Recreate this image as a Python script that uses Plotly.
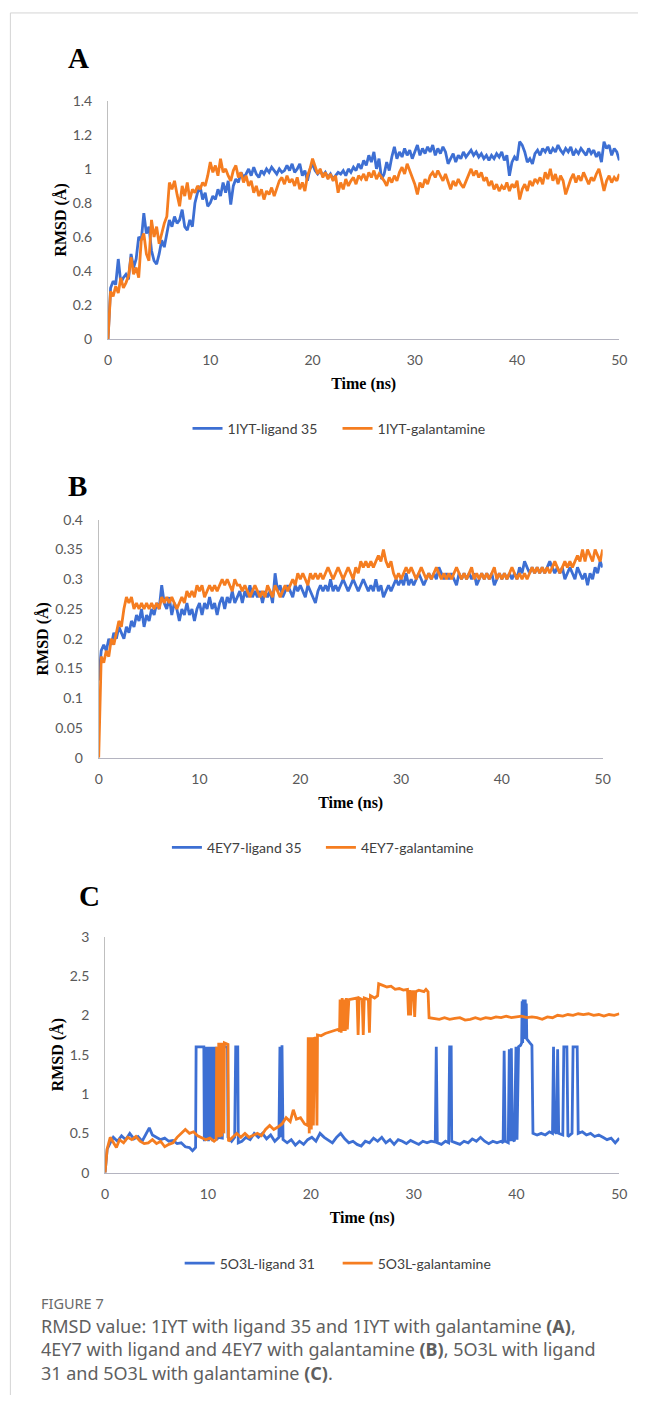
import numpy as np
import plotly.graph_objects as go

# ---------------- DATA ----------------
# Panel A (1IYT), values every 0.25 ns from 0 to 50 ns
a_ligand35 = [
    0.00, 0.30, 0.34, 0.32, 0.47, 0.33, 0.36, 0.38,
    0.35, 0.50, 0.42, 0.47, 0.60, 0.58, 0.74, 0.62,
    0.66, 0.52, 0.46, 0.44, 0.50, 0.58, 0.54, 0.62,
    0.70, 0.66, 0.72, 0.68, 0.70, 0.76, 0.66, 0.64,
    0.70, 0.66, 0.80, 0.86, 0.90, 0.82, 0.86, 0.78,
    0.80, 0.84, 0.82, 0.88, 0.84, 0.92, 0.86, 0.93,
    0.79, 0.90, 0.94, 0.92, 0.98, 0.95, 0.97, 1.00,
    0.96, 1.01, 0.97, 0.95, 0.99, 0.97, 1.00, 0.98,
    1.01, 0.99, 0.97, 1.00, 0.98, 0.99, 1.02, 0.99,
    1.03, 0.98, 1.00, 1.03, 0.96, 0.99, 0.93, 1.00,
    1.03, 0.99, 0.97, 0.99, 0.96, 0.98, 0.95, 0.97,
    0.94, 0.96, 0.98, 0.97, 0.99, 0.96, 1.00, 0.98,
    1.01, 0.99, 1.03, 1.00, 1.05, 1.02, 1.08, 1.04,
    1.10, 1.00, 1.06, 0.94, 0.97, 1.04, 0.99, 1.07,
    1.13, 1.06, 1.10, 1.07, 1.12, 1.08, 1.11, 1.06,
    1.10, 1.14, 1.08, 1.12, 1.09, 1.13, 1.10, 1.14,
    1.08, 1.12, 1.09, 1.13, 1.10, 1.03, 1.06, 1.09,
    1.04, 1.08, 1.06, 1.10, 1.07, 1.09, 1.11, 1.08,
    1.10, 1.07, 1.09, 1.06, 1.08, 1.05, 1.08, 1.06,
    1.09, 1.07, 1.10, 1.05, 1.08, 0.96, 1.04, 1.07,
    1.05, 1.16, 1.14, 1.10, 1.04, 1.06, 1.03, 1.09,
    1.11, 1.08, 1.12, 1.10, 1.13, 1.09, 1.12, 1.10,
    1.14, 1.11, 1.09, 1.12, 1.10, 1.13, 1.08, 1.11,
    1.09, 1.12, 1.10, 1.08, 1.12, 1.09, 1.11, 1.07,
    1.10, 1.04, 1.16, 1.12, 1.14, 1.08, 1.12, 1.10,
    1.05,
]
a_galantamine = [
    0.00, 0.28, 0.25, 0.31, 0.27, 0.36, 0.30, 0.33,
    0.37, 0.48, 0.38, 0.42, 0.36, 0.58, 0.62, 0.50,
    0.46, 0.70, 0.60, 0.66, 0.56, 0.63, 0.68, 0.72,
    0.92, 0.88, 0.93, 0.85, 0.78, 0.90, 0.84, 0.92,
    0.82, 0.88, 0.86, 0.90, 0.88, 0.92, 0.90, 0.96,
    1.04, 0.98, 1.02, 0.96, 1.06, 0.98, 1.00, 0.96,
    0.93, 0.99, 1.02, 0.95, 0.98, 0.92, 0.96, 0.90,
    0.93, 0.86, 0.90, 0.84, 0.88, 0.82, 0.87, 0.85,
    0.89, 0.84, 0.88, 0.93, 0.95, 0.91, 0.96, 0.92,
    0.94, 0.90, 0.95, 0.88, 0.92, 0.87, 0.96, 1.00,
    1.06, 1.02, 0.97, 1.00, 0.95, 0.98, 0.94, 0.97,
    0.93, 0.96, 0.86, 0.92, 0.88, 0.94, 0.90, 0.93,
    0.95, 0.91, 0.96, 0.94, 0.97, 0.93, 0.98, 0.95,
    0.99, 0.94, 0.97, 0.95, 0.93, 0.90, 0.95, 0.92,
    0.96, 0.93, 0.98, 1.01, 0.97, 1.03, 0.99, 0.94,
    0.91, 0.85, 0.92, 0.89, 0.94, 0.91, 0.96, 0.98,
    0.95, 0.99, 0.96, 0.93, 0.97, 0.92, 0.88, 0.93,
    0.90, 0.94, 0.91, 0.89, 0.93, 0.97, 1.00, 0.96,
    0.99, 0.95, 0.98, 0.93, 0.95, 0.90, 0.93, 0.88,
    0.91, 0.87, 0.90, 0.88, 0.92, 0.87, 0.91, 0.89,
    0.93, 0.82, 0.88, 0.91, 0.87, 0.93, 0.90, 0.94,
    0.92, 0.95, 0.91, 0.98, 0.94, 1.00, 0.93, 0.97,
    0.91, 0.96, 0.93, 0.85, 0.90, 0.94, 0.97, 0.92,
    0.96, 0.93, 0.98, 0.94, 0.91, 0.95, 0.93, 0.97,
    1.00, 0.94, 0.87, 0.93, 0.96, 0.92, 0.95, 0.93,
    0.97,
]

# Panel B (4EY7), values every 0.25 ns from 0 to 50 ns
b_ligand35 = [
    0.13, 0.18, 0.19, 0.18, 0.20, 0.19, 0.21, 0.20,
    0.22, 0.21, 0.20, 0.22, 0.21, 0.23, 0.22, 0.24,
    0.23, 0.25, 0.22, 0.24, 0.23, 0.25, 0.24, 0.26,
    0.25, 0.29, 0.26, 0.25, 0.27, 0.24, 0.26, 0.25,
    0.23, 0.25, 0.24, 0.26, 0.24, 0.25, 0.23, 0.25,
    0.26, 0.24, 0.26, 0.25, 0.27, 0.25, 0.26, 0.24,
    0.26, 0.27, 0.25, 0.27, 0.26, 0.28, 0.26, 0.27,
    0.28, 0.26, 0.28, 0.27, 0.29, 0.27, 0.28, 0.27,
    0.28, 0.26, 0.28, 0.27, 0.28, 0.26, 0.31, 0.28,
    0.29, 0.27, 0.28, 0.29, 0.28, 0.27, 0.29, 0.28,
    0.29, 0.28, 0.27, 0.29, 0.28, 0.27, 0.26, 0.28,
    0.29, 0.28, 0.29, 0.28, 0.30, 0.28, 0.29, 0.28,
    0.29, 0.30, 0.29, 0.28, 0.29, 0.30, 0.29, 0.28,
    0.29, 0.30, 0.29, 0.28, 0.29, 0.28, 0.30, 0.28,
    0.29, 0.27, 0.28, 0.29, 0.28, 0.29, 0.30, 0.29,
    0.30, 0.29, 0.31, 0.29, 0.30, 0.29, 0.30, 0.31,
    0.30, 0.29, 0.30, 0.31, 0.30, 0.31, 0.30, 0.32,
    0.31, 0.30, 0.31, 0.30, 0.31, 0.30, 0.29, 0.31,
    0.30, 0.31, 0.30, 0.31, 0.30, 0.31, 0.29, 0.30,
    0.31, 0.30, 0.31, 0.30, 0.31, 0.29, 0.30, 0.31,
    0.30, 0.31, 0.30, 0.31, 0.30, 0.31, 0.30, 0.32,
    0.31, 0.33, 0.32, 0.31, 0.32, 0.31, 0.32, 0.31,
    0.32, 0.31, 0.32, 0.33, 0.32, 0.31, 0.32, 0.31,
    0.32, 0.30, 0.31, 0.32, 0.31, 0.30, 0.32, 0.31,
    0.30, 0.31, 0.29, 0.31, 0.30, 0.32, 0.31, 0.33,
    0.32,
]
b_galantamine = [
    0.00, 0.17, 0.16, 0.18, 0.17, 0.20, 0.19, 0.21,
    0.23, 0.22, 0.25, 0.27, 0.26, 0.27, 0.25, 0.26,
    0.25, 0.26, 0.25, 0.26, 0.25, 0.26, 0.25, 0.26,
    0.25, 0.27, 0.26, 0.27, 0.26, 0.27, 0.26, 0.25,
    0.26, 0.27, 0.26, 0.28, 0.27, 0.28, 0.27, 0.29,
    0.28, 0.29, 0.27, 0.28, 0.29, 0.28, 0.29, 0.28,
    0.29, 0.30, 0.29, 0.30, 0.29, 0.28, 0.30, 0.29,
    0.29, 0.28, 0.29, 0.28, 0.27, 0.28, 0.29, 0.28,
    0.27, 0.28, 0.27, 0.29, 0.28, 0.27, 0.29, 0.28,
    0.27, 0.28, 0.29, 0.28, 0.29, 0.30, 0.29, 0.31,
    0.30, 0.31, 0.30, 0.29, 0.31, 0.30, 0.31, 0.30,
    0.31, 0.30, 0.31, 0.32, 0.31, 0.30, 0.31, 0.32,
    0.31, 0.30, 0.31, 0.32, 0.31, 0.30, 0.32, 0.31,
    0.33, 0.32, 0.33, 0.32, 0.33, 0.32, 0.33, 0.34,
    0.33, 0.35, 0.33, 0.32, 0.33, 0.31, 0.30, 0.31,
    0.30, 0.31, 0.32, 0.31, 0.32, 0.31, 0.30, 0.31,
    0.32, 0.31, 0.30, 0.31, 0.30, 0.31, 0.32, 0.31,
    0.30, 0.31, 0.30, 0.31, 0.30, 0.31, 0.32, 0.31,
    0.30, 0.31, 0.30, 0.31, 0.32, 0.30, 0.31, 0.30,
    0.31, 0.30, 0.31, 0.30, 0.31, 0.32, 0.30, 0.31,
    0.30, 0.31, 0.30, 0.31, 0.32, 0.31, 0.30, 0.31,
    0.30, 0.31, 0.30, 0.31, 0.32, 0.31, 0.32, 0.31,
    0.32, 0.31, 0.32, 0.31, 0.32, 0.33, 0.32, 0.31,
    0.32, 0.33, 0.32, 0.33, 0.32, 0.33, 0.34, 0.33,
    0.35, 0.33, 0.35, 0.34, 0.33, 0.35, 0.34, 0.33,
    0.35,
]

# Panel C (5O3L), irregular sampling (ns) to keep the jumps sharp
c_ligand31_t = [
    0, 0.2, 0.5, 0.8, 1.2, 1.6, 2.0, 2.4, 2.8, 3.2, 3.6, 4.0, 4.3, 4.6, 5.0, 5.4,
    5.8, 6.2, 6.6, 7.0, 7.4, 7.8, 8.2, 8.5, 8.8, 8.85, 9.2, 9.6, 9.65, 9.75, 9.85,
    9.95, 10.05, 10.15, 10.25, 10.35, 10.45, 10.55, 10.65, 10.75, 10.85, 11.0,
    11.4, 11.5, 11.9, 11.95, 12.3, 12.6, 12.7, 12.9, 12.95, 13.3, 13.7, 14.1,
    14.5, 14.9, 15.3, 15.7, 16.1, 16.5, 16.9, 17.0, 17.1, 17.2, 17.3, 17.7, 18.1,
    18.5, 18.9, 19.3, 19.7, 20.1, 20.5, 20.9, 21.3, 21.7, 22.1, 22.5, 22.9, 23.3,
    23.7, 24.1, 24.5, 24.9, 25.3, 25.7, 26.1, 26.5, 26.9, 27.3, 27.7, 28.1, 28.5,
    28.9, 29.3, 29.7, 30.1, 30.5, 30.9, 31.3, 31.7, 32.1, 32.2, 32.3, 32.7, 33.1,
    33.4, 33.5, 33.65, 33.7, 34.1, 34.5, 34.9, 35.3, 35.7, 36.1, 36.5, 36.9, 37.3,
    37.7, 38.1, 38.5, 38.7, 38.8, 38.9, 39.2, 39.3, 39.4, 39.5, 39.6, 39.8, 39.95,
    40.05, 40.2, 40.4, 40.5, 40.55, 40.6, 40.65, 40.7, 40.75, 40.8, 40.85, 40.9,
    40.95, 41.0, 41.3, 41.5, 41.6, 42.0, 42.4, 42.8, 43.2, 43.5, 43.6, 43.7, 43.9,
    44.0, 44.1, 44.5, 44.6, 44.9, 45.0, 45.4, 45.5, 45.9, 46.0, 46.4, 46.8, 47.2,
    47.6, 48.0, 48.4, 48.8, 49.2, 49.6, 50.0,
]
c_ligand31 = [
    0.00, 0.30, 0.38, 0.45, 0.40, 0.47, 0.42, 0.50, 0.43, 0.46, 0.40, 0.50, 0.57, 0.48, 0.45, 0.42,
    0.44, 0.40, 0.41, 0.37, 0.38, 0.33, 0.32, 0.28, 0.32, 1.60, 1.60, 1.60, 0.40, 1.60, 0.42,
    1.60, 0.40, 1.60, 0.42, 1.60, 0.40, 1.60, 0.43, 1.60, 0.42, 0.45,
    0.44, 1.60, 1.60, 0.45, 0.40, 0.45, 1.60, 1.60, 0.38, 0.40, 0.45, 0.42,
    0.50, 0.45, 0.50, 0.43, 0.48, 0.40, 0.45, 1.60, 0.45, 1.62, 0.42, 0.38, 0.42,
    0.35, 0.40, 0.36, 0.42, 0.45, 0.40, 0.50, 0.45, 0.42, 0.38, 0.45, 0.50, 0.43,
    0.38, 0.40, 0.36, 0.34, 0.40, 0.38, 0.44, 0.40, 0.45, 0.38, 0.42, 0.36, 0.42,
    0.40, 0.37, 0.41, 0.39, 0.36, 0.40, 0.38, 0.40, 0.39, 1.60, 0.38, 0.36, 0.40,
    0.38, 1.60, 1.60, 0.40, 0.38, 0.36, 0.40, 0.38, 0.43, 0.40, 0.45, 0.40, 0.37,
    0.40, 0.38, 0.40, 0.38, 1.55, 0.40, 0.38, 1.57, 0.40, 1.58, 0.42, 0.40, 1.60,
    0.42, 1.60, 1.62, 1.65, 2.18, 1.65, 2.20, 1.70, 2.20, 1.70, 2.20, 1.75,
    2.15, 1.70, 1.65, 1.62, 0.50, 0.48, 0.50, 0.48, 0.52, 0.50, 1.60, 0.52, 0.50,
    1.57, 0.50, 0.48, 1.60, 1.60, 0.46, 0.50, 1.60, 1.60, 0.50, 0.52, 0.48, 0.50,
    0.46, 0.48, 0.45, 0.42, 0.44, 0.38, 0.44,
]
c_galantamine_t = [
    0, 0.2, 0.5, 0.8, 1.1, 1.4, 1.8, 2.2, 2.6, 3.0, 3.4, 3.8, 4.2, 4.6, 5.0, 5.4,
    5.8, 6.2, 6.6, 7.0, 7.4, 7.8, 8.2, 8.6, 9.0, 9.4, 9.8, 10.2, 10.6, 10.8, 10.85,
    10.95, 11.05, 11.15, 11.25, 11.35, 11.45, 11.55, 11.6, 11.95, 12.0, 12.4, 12.8,
    13.2, 13.6, 14.0, 14.4, 14.8, 15.2, 15.6, 16.0, 16.4, 16.8, 17.2, 17.6, 18.0,
    18.3, 18.6, 19.0, 19.4, 19.7, 19.75, 19.85, 19.95, 20.05, 20.15, 20.25, 20.35,
    20.5, 20.6, 20.65, 21.0, 21.4, 21.8, 22.2, 22.6, 22.8, 22.85, 22.95, 23.05,
    23.15, 23.25, 23.35, 23.45, 23.55, 23.7, 24.5, 24.6, 24.7, 25.0, 25.1, 25.2,
    25.6, 25.7, 25.8, 26.2, 26.5, 26.6, 27.0, 27.4, 27.8, 28.2, 28.6, 29.0, 29.4,
    29.5, 29.6, 29.7, 29.8, 30.0, 30.1, 30.2, 30.5, 31.0, 31.2, 31.4, 31.5, 32.0,
    32.5, 33.0, 33.5, 34.0, 34.5, 35.0, 35.5, 36.0, 36.5, 37.0, 37.5, 38.0, 38.5,
    39.0, 39.5, 40.0, 40.5, 41.0, 41.5, 42.0, 42.5, 43.0, 43.5, 44.0, 44.5, 45.0,
    45.5, 46.0, 46.5, 47.0, 47.5, 48.0, 48.5, 49.0, 49.5, 50.0,
]
c_galantamine = [
    0.00, 0.30, 0.45, 0.38, 0.32, 0.42, 0.38, 0.45, 0.42, 0.46, 0.40, 0.37, 0.38, 0.42, 0.37, 0.40,
    0.33, 0.36, 0.38, 0.45, 0.50, 0.55, 0.50, 0.52, 0.47, 0.45, 0.42, 0.44, 0.40, 0.42, 1.60,
    0.45, 1.65, 0.45, 1.65, 0.46, 1.65, 0.50, 1.65, 1.63, 0.40, 0.45, 0.50,
    0.45, 0.50, 0.45, 0.48, 0.50, 0.47, 0.55, 0.60, 0.55, 0.58, 0.62, 0.70, 0.65,
    0.80, 0.68, 0.70, 0.62, 0.60, 1.72, 0.50, 1.72, 0.55, 1.72, 0.60, 1.72,
    1.70, 0.60, 1.75, 1.74, 1.77, 1.79, 1.80, 1.82, 1.80, 2.20, 1.78, 2.22,
    1.80, 2.20, 1.80, 2.22, 1.82, 2.20, 2.22, 1.75, 2.22, 2.20, 1.75, 2.22,
    2.20, 1.78, 2.25, 2.22, 2.25, 2.40, 2.38, 2.36, 2.37, 2.33, 2.34, 2.32, 2.33,
    2.00, 2.32, 2.00, 2.30, 2.30, 1.98, 2.30, 2.32, 2.30, 2.33, 2.30, 1.97, 1.96,
    1.95, 1.97, 1.95, 1.96, 1.97, 1.94, 1.95, 1.97, 1.95, 1.97, 1.96, 1.98, 1.97,
    1.99, 1.97, 1.98, 1.99, 1.97, 1.98, 1.97, 1.95, 1.98, 1.97, 2.00, 1.99, 2.01,
    2.00, 2.02, 2.01, 2.02, 2.00, 2.01, 1.99, 2.01, 2.00, 2.02,
]

legend_names = [
    ("1IYT-ligand 35", "1IYT-galantamine"),
    ("4EY7-ligand 35", "4EY7-galantamine"),
    ("5O3L-ligand 31", "5O3L-galantamine"),
]
x_ticks = [0, 10, 20, 30, 40, 50]
y_ticks_a = [0, 0.2, 0.4, 0.6, 0.8, 1, 1.2, 1.4]
y_ticks_b = [0, 0.05, 0.1, 0.15, 0.2, 0.25, 0.3, 0.35, 0.4]
y_ticks_c = [0, 0.5, 1, 1.5, 2, 2.5, 3]

# ---------------- FIGURE ----------------
W, H = 646, 1403
BLUE = "#3d6fd3"
ORANGE = "#f57d20"
TICKFONT = dict(family="Lato, Open Sans, sans-serif", size=14, color="#595959")
TITLEFONT = dict(family="Liberation Serif, Times New Roman, serif", size=16, color="#000000")

def px(x):
    return x / W

def py(y):
    return 1 - y / H

t_a1 = np.linspace(0, 50, len(a_ligand35))
t_a2 = np.linspace(0, 50, len(a_galantamine))
t_b1 = np.linspace(0, 50, len(b_ligand35))
t_b2 = np.linspace(0, 50, len(b_galantamine))

fig = go.Figure()
panels = [
    (t_a1, a_ligand35, t_a2, a_galantamine, "x", "y", "legend"),
    (t_b1, b_ligand35, t_b2, b_galantamine, "x2", "y2", "legend2"),
    (c_ligand31_t, c_ligand31, c_galantamine_t, c_galantamine, "x3", "y3", "legend3"),
]
for i, (tb, vb, to, vo, xa, ya, lg) in enumerate(panels):
    fig.add_trace(go.Scatter(x=tb, y=vb, mode="lines", name=legend_names[i][0],
                             line=dict(color=BLUE, width=2.8), xaxis=xa, yaxis=ya, legend=lg))
    fig.add_trace(go.Scatter(x=to, y=vo, mode="lines", name=legend_names[i][1],
                             line=dict(color=ORANGE, width=2.8), xaxis=xa, yaxis=ya, legend=lg))

# plot area geometry (pixels) for each panel: x0, x1, ytop, ybottom
geo = [
    (106, 627, 93, 334),
    (96.5, 610, 517, 758),
    (103, 627, 939, 1178),
]
yranges = [[0, 1.4], [0, 0.4], [0, 3]]
yticks = [y_ticks_a, y_ticks_b, y_ticks_c]
suffix = ["", "2", "3"]

for i in range(3):
    x0, x1, yt, yb = geo[i]
    s = suffix[i]
    fig.layout["xaxis" + s] = dict(
        domain=[px(x0), px(x1)], range=[0, 50], anchor="y" + s,
        tickvals=x_ticks, ticktext=[str(v) for v in x_ticks],
        showgrid=False, zeroline=False, showline=True, linecolor="#b4b4c0", linewidth=1,
        ticks="", tickfont=TICKFONT, ticklabelstandoff=8, fixedrange=True,
        title=dict(text="<b>Time (ns)</b>", font=TITLEFONT, standoff=11),
    )
    fig.layout["yaxis" + s] = dict(
        domain=[py(yb), py(yt)], range=yranges[i], anchor="x" + s,
        tickvals=yticks[i], ticktext=[f"{v:g}" for v in yticks[i]],
        showgrid=False, zeroline=False, showline=True, linecolor="#bfbfbf", linewidth=1,
        ticks="", tickfont=TICKFONT, ticklabelstandoff=12, fixedrange=True,
        title=dict(text="<b>RMSD (Å)</b>", font=TITLEFONT, standoff=2),
    )

# legend: left edge (px), vertical centre (px), entry width (px)
legend_pos = [(187, 425, 105), (166, 849, 109), (179, 1270, 113)]
for i, (lx, ly, ew) in enumerate(legend_pos):
    key = "legend" if i == 0 else f"legend{i+1}"
    fig.layout[key] = dict(
        orientation="h", x=px(lx), y=py(ly), xanchor="left", yanchor="middle",
        font=dict(family="Lato, Open Sans, sans-serif", size=14, color="#404040"),
        bgcolor="rgba(0,0,0,0)", itemwidth=30, tracegroupgap=0,
        entrywidth=ew, entrywidthmode="pixels",
    )

annotations = []
for letter, (lx, ly) in zip(["A", "B", "C"], [(75.5, 49.5), (74.5, 483), (87.5, 898)]):
    annotations.append(dict(
        text=f"<b>{letter}</b>", x=px(lx), y=py(ly), xref="paper", yref="paper",
        xanchor="center", yanchor="middle", showarrow=False,
        font=dict(family="Liberation Serif, Times New Roman, serif", size=29, color="#000000"),
    ))

CAPFONT = dict(family="Noto Sans, Open Sans, sans-serif", size=18, color="#5f5f5f")
annotations.append(dict(
    text="FIGURE 7", x=px(37), y=py(1309.5), xref="paper", yref="paper",
    xanchor="left", yanchor="middle", showarrow=False, borderpad=0,
    font=dict(family="Noto Sans, Open Sans, sans-serif", size=14.5, color="#6a6a6a"),
))
caption_lines = [
    "RMSD value: 1IYT with ligand 35 and 1IYT with galantamine <b>(A)</b>,",
    "4EY7 with ligand and 4EY7 with galantamine <b>(B)</b>, 5O3L with ligand",
    "31 and 5O3L with galantamine <b>(C)</b>.",
]
annotations.append(dict(
    text="<br>".join(caption_lines), x=px(37), y=py(1357), xref="paper", yref="paper",
    xanchor="left", yanchor="middle", align="left", showarrow=False, borderpad=0,
    font=CAPFONT,
))

shapes = [
    dict(type="line", xref="paper", yref="paper", x0=px(6.5), x1=1, y0=py(4), y1=py(4),
         line=dict(color="#d4d4d4", width=1)),
    dict(type="line", xref="paper", yref="paper", x0=px(6.5), x1=px(6.5), y0=py(4), y1=0,
         line=dict(color="#d4d4d4", width=1)),
]

fig.update_layout(
    width=W, height=H, margin=dict(l=0, r=0, t=0, b=0),
    paper_bgcolor="white", plot_bgcolor="white",
    annotations=annotations, shapes=shapes, showlegend=True,
)

fig.write_html(
    "out.html",
    config={"displayModeBar": False},
    post_script="document.body.style.margin='0px';document.body.style.overflow='hidden';",
)
